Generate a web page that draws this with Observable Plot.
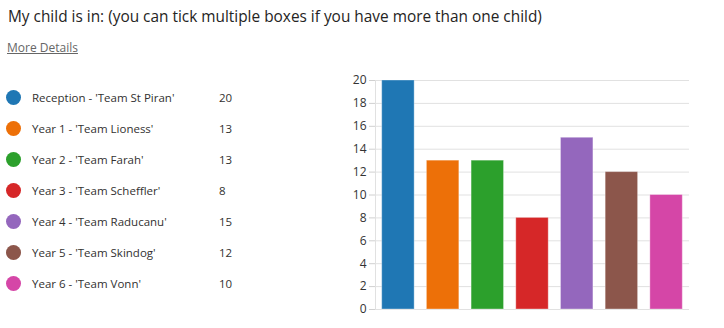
<!DOCTYPE html>
<html>
<head>
<meta charset="utf-8">
<script src="https://cdn.jsdelivr.net/npm/d3@7"></script>
<script src="https://cdn.jsdelivr.net/npm/@observablehq/plot@0.6"></script>
<style>
  body { margin: 0; background: #fff; font-family: "Open Sans", "Noto Sans", sans-serif; width: 724px; height: 328px; position: relative; overflow: hidden; }
  #title { position: absolute; left: 8px; top: 6px; font-size: 15.4px; color: #252423; white-space: nowrap; }
  #more { position: absolute; left: 7px; top: 39px; font-size: 12px; color: #666; text-decoration: underline; white-space: nowrap; }
  #legend { position: absolute; left: 0; top: 0; }
  .row { position: absolute; left: 6px; height: 16px; display: flex; align-items: center; font-size: 11.5px; color: #323130; white-space: nowrap; }
  .dot { width: 15px; height: 15px; border-radius: 50%; margin-right: 11px; }
  .lab { width: 187px; }
  #chart { position: absolute; left: 330px; top: 70px; }
</style>
</head>
<body>
<div id="title">My child is in: (you can tick multiple boxes if you have more than one child)</div>
<div id="more">More Details</div>
<div id="legend"></div>
<div id="chart"></div>
<script>
const categories = [
  "Reception - 'Team St Piran'",
  "Year 1 - 'Team Lioness'",
  "Year 2 - 'Team Farah'",
  "Year 3 - 'Team Scheffler'",
  "Year 4 - 'Team Raducanu'",
  "Year 5 - 'Team Skindog'",
  "Year 6 - 'Team Vonn'"
];
const counts = [20, 13, 13, 8, 15, 12, 10];
const colors = ["#1f77b4", "#ed7008", "#2ca02c", "#d62728", "#9467bd", "#8c564b", "#d546a7"];
const yTicks = [0, 2, 4, 6, 8, 10, 12, 14, 16, 18, 20];

const data = categories.map((c, i) => ({category: c, count: counts[i]}));

// Legend (HTML)
const legend = document.getElementById("legend");
data.forEach((d, i) => {
  const row = document.createElement("div");
  row.className = "row";
  row.style.top = (89 + i * 31.1) + "px";
  row.innerHTML = `<span class="dot" style="background:${colors[i]}"></span><span class="lab">${d.category.replace(/&/g,"&amp;")}</span><span>${d.count}</span>`;
  legend.appendChild(row);
});

// left axis line drawn from the plot's own dimensions
function leftAxisLine(index, scales, values, dims) {
  const ns = "http://www.w3.org/2000/svg";
  const l = document.createElementNS(ns, "line");
  const x = dims.marginLeft + 0.5;
  l.setAttribute("x1", x); l.setAttribute("x2", x);
  l.setAttribute("y1", dims.marginTop);
  l.setAttribute("y2", dims.height - dims.marginBottom);
  l.setAttribute("stroke", "#e1e1e1");
  return l;
}

const chart = Plot.plot({
  width: 370,
  height: 250,
  marginLeft: 45,
  marginRight: 11,
  marginTop: 10,
  marginBottom: 11,
  style: {fontFamily: "'Open Sans', sans-serif", fontSize: "12px", color: "#333", background: "transparent"},
  x: {domain: categories, paddingInner: 0.274, paddingOuter: 0.15, round: false, axis: null},
  y: {domain: [0, 20], ticks: yTicks, label: null, axis: null},
  color: {domain: categories, range: colors},
  marks: [
    Plot.gridY(yTicks, {stroke: "#e1e1e1", strokeOpacity: 1}),
    leftAxisLine,
    Plot.axisY({ticks: yTicks, tickSize: 6, tickPadding: 3, stroke: "#d0d0d0", label: null, fill: "#333"}),
    Plot.barY(data, {x: "category", y: "count", fill: "category", stroke: "white", strokeOpacity: 0.35, strokeWidth: 1, inset: 0})
  ]
});
document.getElementById("chart").appendChild(chart);
</script>
</body>
</html>
